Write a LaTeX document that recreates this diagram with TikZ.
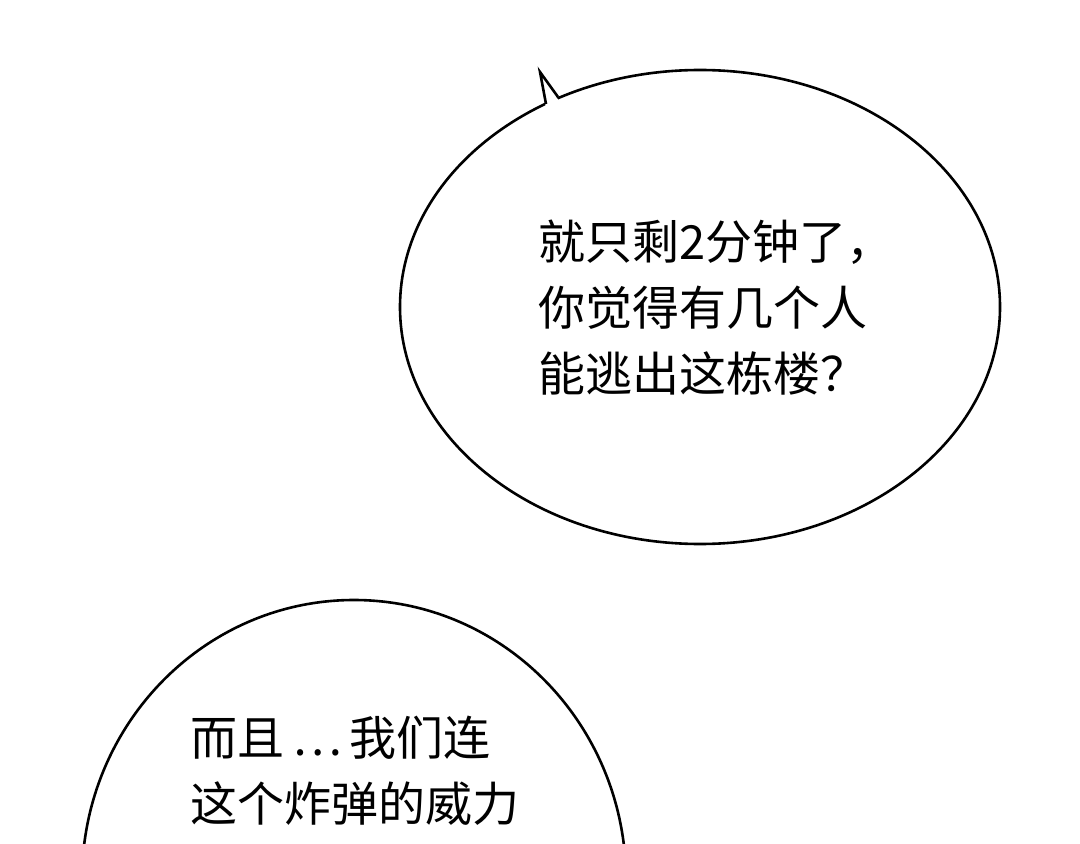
\documentclass[tikz,border=0pt]{standalone}
\usepackage{fontspec}
\newfontfamily\cjk{Noto Sans CJK SC}
\tikzset{
  bubble/.style={draw=black, line width=1.3pt, fill=white},
  speech/.style={font=\cjk\fontsize{23.5}{33}\selectfont, align=left, anchor=north west, inner sep=0pt}
}
\begin{document}
\begin{tikzpicture}[x=0.5pt,y=-0.5pt]
  \useasboundingbox (0,0) rectangle (1080,844);
  \clip (0,0) rectangle (1080,844);
  % upper bubble with tail
  \draw[bubble] (700,307) ellipse [x radius=300, y radius=237];
  \fill[white] (546,108) -- (540,72) -- (559,101) -- cycle;
  \draw[line width=1.3pt, line join=miter] (546,104) -- (540,72) -- (558,97);
  \node[speech] (line1) at (538,220) {就只剩2分钟了，\\你觉得有几个人\\能逃出这栋楼？};
  % lower bubble
  \draw[bubble] (354,880) ellipse [x radius=272, y radius=280];
  \node[speech] (line2) at (190,716) {而且\,…\,我们连\\这个炸弹的威力};
\end{tikzpicture}
\end{document}
